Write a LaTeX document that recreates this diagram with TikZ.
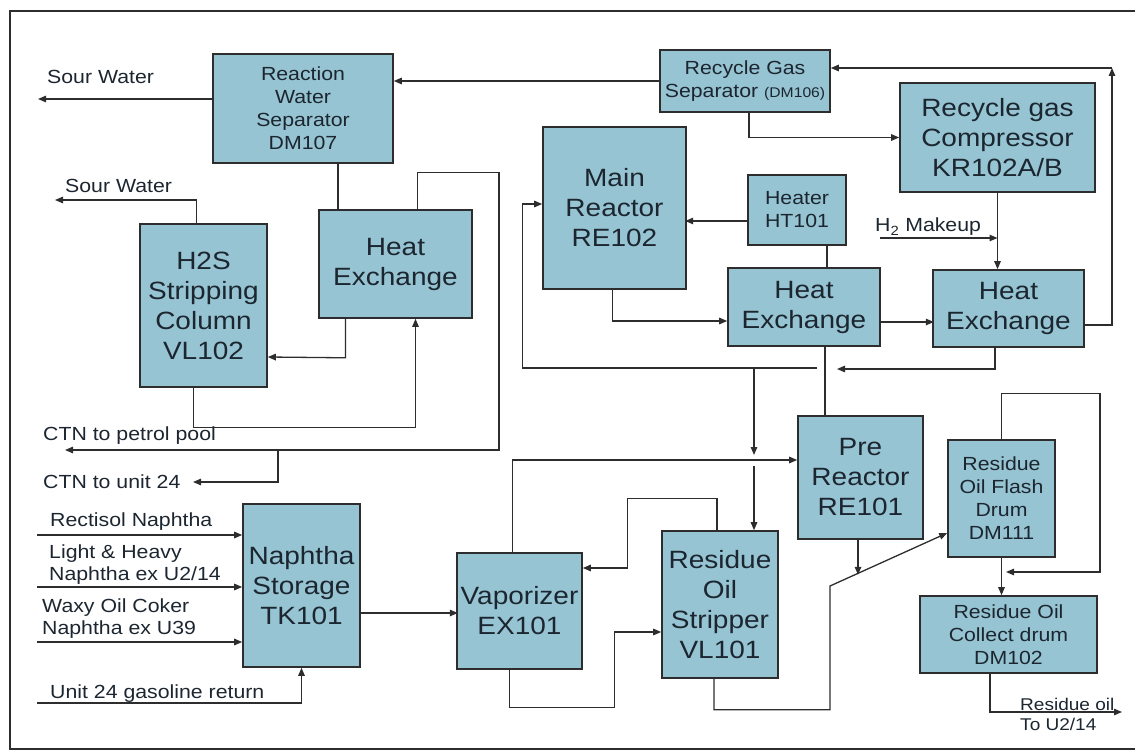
\documentclass[tikz,border=0pt]{standalone}
\usepackage{fontspec}
\setmainfont{Liberation Sans}[FakeStretch=1.12]
\usetikzlibrary{arrows.meta}
\definecolor{boxblue}{RGB}{150,196,210}
\definecolor{ink}{RGB}{28,38,48}
\definecolor{pipec}{RGB}{45,45,45}

\begin{document}
\begin{tikzpicture}[x=1pt,y=-1pt,
  unit/.style={draw=pipec,fill=boxblue,line width=1.6pt,inner sep=0pt,align=center,text=ink,font=\fontsize{25}{30}\selectfont},
  small unit/.style={unit,font=\fontsize{19}{23}\selectfont},
  lab/.style={inner sep=0pt,text=ink,font=\fontsize{19}{22}\selectfont},
  pipe/.style={draw=pipec,line width=1.3pt},
  flow/.style={pipe,-{Triangle[length=8pt,width=6.5pt]}}]

  \useasboundingbox (0,0) rectangle (1135,754);
  \draw[line width=2.5pt,draw=pipec] (1140,11) -- (10,11) -- (10,749) -- (1140,749);

  % units
  \node[small unit,minimum width=180pt,minimum height=109pt] (dm107) at (303,108.5) {Reaction\\Water\\Separator\\DM107};
  \node[small unit,minimum width=170pt,minimum height=62pt] (dm106) at (745,81) {Recycle Gas\\Separator {\fontsize{14}{16}\selectfont(DM106)}};
  \node[unit,minimum width=195pt,minimum height=109pt] (kr102) at (997.5,137.5) {Recycle gas\\Compressor\\KR102A/B};
  \node[unit,minimum width=143pt,minimum height=162pt] (re102) at (614.5,208) {Main\\Reactor\\RE102};
  \node[small unit,minimum width=98pt,minimum height=70pt] (ht101) at (797,210) {Heater\\HT101};
  \node[unit,minimum width=127pt,minimum height=163pt] (vl102) at (203.5,305.5) {H2S\\Stripping\\Column\\VL102};
  \node[unit,minimum width=153pt,minimum height=108pt] (hx1) at (395.5,264) {Heat\\Exchange};
  \node[unit,minimum width=152pt,minimum height=78pt] (hx2) at (804,307) {Heat\\Exchange};
  \node[unit,minimum width=151pt,minimum height=77pt] (hx3) at (1008.5,308.5) {Heat\\Exchange};
  \node[unit,minimum width=125pt,minimum height=123pt] (re101) at (860.5,477.5) {Pre\\Reactor\\RE101};
  \node[small unit,minimum width=107pt,minimum height=117pt] (dm111) at (1001.5,498.5) {Residue\\Oil Flash\\Drum\\DM111};
  \node[small unit,minimum width=177pt,minimum height=77pt] (dm102) at (1008.5,634.5) {Residue Oil\\Collect drum\\DM102};
  \node[unit,minimum width=117pt,minimum height=163pt] (tk101) at (301.5,585.5) {Naphtha\\Storage\\TK101};
  \node[unit,minimum width=125pt,minimum height=116pt] (ex101) at (519.5,611) {Vaporizer\\EX101};
  \node[unit,minimum width=116pt,minimum height=147pt] (vl101) at (720,604.5) {Residue\\Oil\\Stripper\\VL101};

  % stream labels
  \node[lab,anchor=base west] (lsw1) at (47,84) {Sour Water};
  \node[lab,anchor=base west] (lsw2) at (65,193) {Sour Water};
  \node[lab,anchor=base west] (lctn1) at (43,440) {CTN to petrol pool};
  \node[lab,anchor=base west] (lctn2) at (43,488) {CTN to unit 24};
  \node[lab,anchor=base west] (lin1) at (50,526) {Rectisol Naphtha};
  \node[lab,anchor=west,align=left] (lin2) at (49,565) {Light \& Heavy\\Naphtha ex U2/14};
  \node[lab,anchor=west,align=left] (lin3) at (42,619) {Waxy Oil Coker\\Naphtha ex U39};
  \node[lab,anchor=base west] (lin4) at (50,698) {Unit 24 gasoline return};
  \node[lab,anchor=base west] (lh2) at (875,232) {H\textsubscript{2} Makeup};
  \node[lab,anchor=base west,font=\fontsize{17}{20}\selectfont] (lro1) at (1020,710) {Residue oil};
  \node[lab,anchor=base west,font=\fontsize{17}{20}\selectfont] (lro2) at (1020,730) {To U2/14};

  % free ends and junctions
  \coordinate (sw1) at (38,99);
  \coordinate (sw2) at (55,200);
  \coordinate (ctn1) at (65,450);
  \coordinate (ctn2) at (193,482);
  \coordinate (jc) at (278,450);
  \coordinate (jx) at (817,368);
  \coordinate (jm) at (754,368);
  \coordinate (jy) at (837,369);
  \coordinate (jr) at (1112,68);
  \coordinate (h2) at (880,238);
  \coordinate (jd) at (830,586);
  \coordinate (jf) at (1100,572);
  \coordinate (jf2) at (1006,572);
  \coordinate (ro) at (1122,712);
  \coordinate (in1) at (37,535);
  \coordinate (in2) at (37,587);
  \coordinate (in3) at (37,642);
  \coordinate (in4) at (37,703);

  % water side
  \draw[flow] (dm106.west) -- (dm106.west -| dm107.east);
  \draw[flow] (dm107.west |- sw1) -- (sw1);
  \draw[pipe] ([xshift=35pt]dm107.south) -- ++(0,47);
  \draw[flow] ([xshift=-7pt]vl102.north) |- (sw2);
  \draw[flow] ([xshift=-50pt]hx1.south) -- ++(0,39) -- (vl102.east |- 0,357);
  \draw[flow] ([xshift=-10pt]vl102.south) -- ++(0,40) -| ([xshift=20pt]hx1.south);
  \draw[flow] ([xshift=22pt]hx1.north) -- ++(0,-37) -| (499,450) -- (ctn1);
  \draw[flow] (jc) |- (ctn2);

  % reactor loop
  \draw[flow] (jx) -| ([xshift=-20pt,yshift=4pt]re102.west) -- ([yshift=4pt]re102.west);
  \draw[flow] (jm) -- ++(0,87);
  \draw[flow] ([xshift=34pt]vl101.north) ++(0,-64) -- ([xshift=34pt]vl101.north);
  \draw[flow] ([xshift=-2pt]re102.south) |- ([yshift=-14pt]hx2.west);
  \draw[flow] ([yshift=-11pt]ht101.west) -- ++(-62,0);
  \draw[pipe] ([xshift=30pt]ht101.south) -- ++(0,23);
  \draw[flow] ([yshift=-15pt]hx2.east) -- ++(53,0);
  \draw[flow] ([xshift=4pt]dm106.south) |- (kr102.west);
  \draw[flow] (kr102.south) -- (kr102.south |- hx3.north);
  \draw[flow] (h2) -- (h2 -| kr102.south);
  \draw[flow] ([yshift=-16.5pt]hx3.east) -| (jr);
  \draw[flow] (jr) -- (jr -| dm106.east);
  \draw[flow] ([xshift=-13.5pt]hx3.south) |- (jy);
  \draw[pipe] ([xshift=21pt]hx2.south) -- ++(0,70);

  % naphtha side
  \draw[flow] ([xshift=-7pt]ex101.north) |- ([yshift=17.5pt]re101.west);
  \draw[flow] ([yshift=-27.5pt]tk101.east) -- ++(97,0);
  \draw[flow] ([xshift=-3pt]vl101.north) -- ++(0,-32) -| ([xshift=45pt,yshift=43pt]ex101.east) -- ([yshift=43pt]ex101.east);
  \draw[flow] ([xshift=-10pt]ex101.south) -- ++(0,38) -| ([xshift=-47pt,yshift=-27.5pt]vl101.west) -- ([yshift=-27.5pt]vl101.west);
  \draw[flow] ([xshift=-6pt]vl101.south) -- ++(0,31) -| (jd) -- ([yshift=-34.5pt]dm111.west);
  \draw[flow] ([xshift=-2.5pt]re101.south) -- ++(0,35);
  \draw[flow] (dm111.north) -- ++(0,-46) -| (jf) -- (jf2);
  \draw[flow] (dm111.south) -- (dm111.south |- dm102.north);
  \draw[flow] ([xshift=-18.5pt]dm102.south) |- (ro);
  \draw[flow] (in1) -- (in1 -| tk101.west);
  \draw[flow] (in2) -- (in2 -| tk101.west);
  \draw[flow] (in3) -- (in3 -| tk101.west);
  \draw[flow] (in4) -| (tk101.south);
\end{tikzpicture}
\end{document}
